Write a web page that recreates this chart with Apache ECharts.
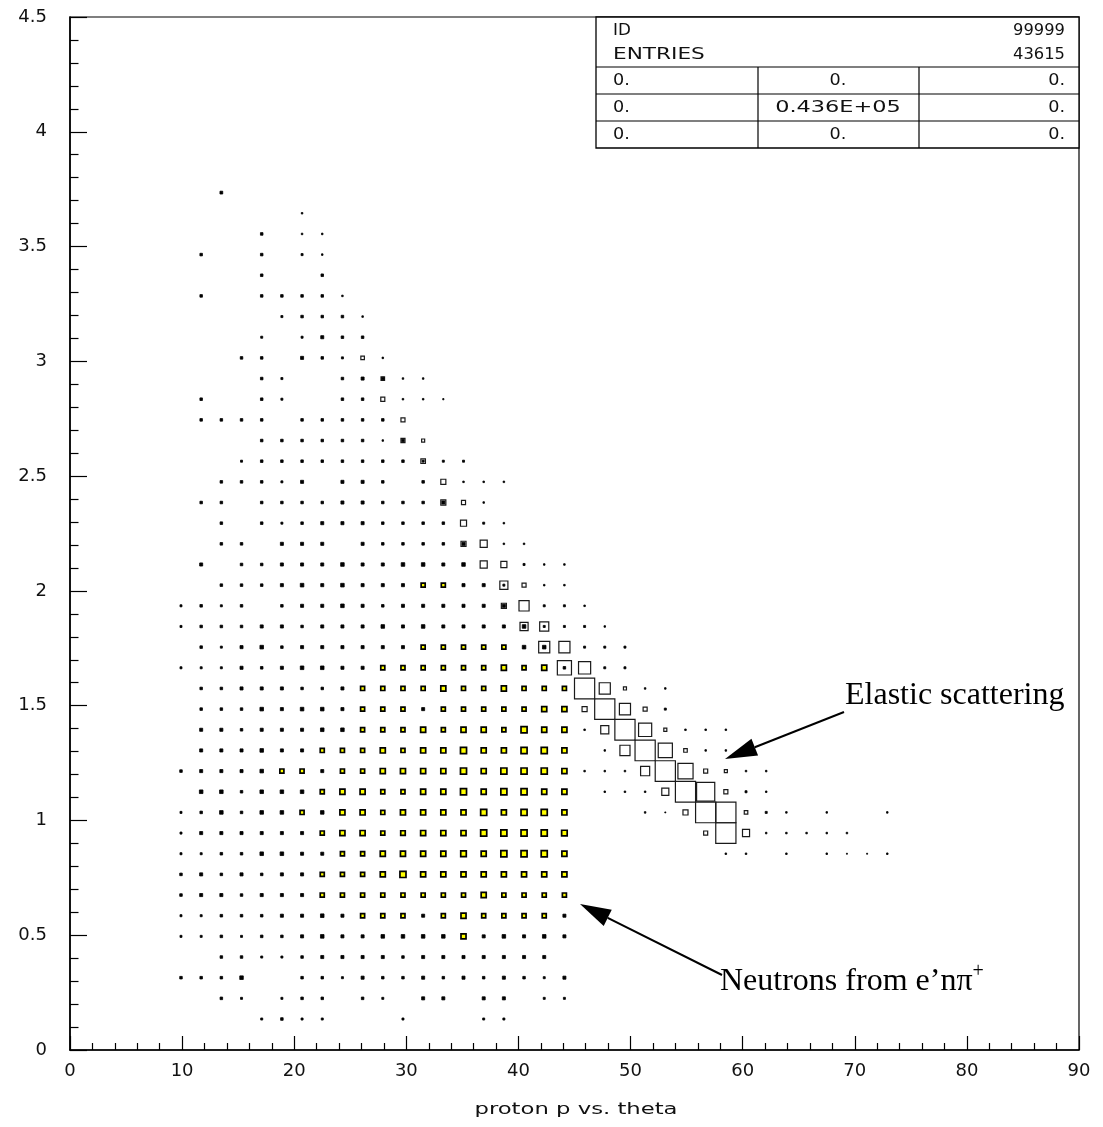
<!DOCTYPE html>
<html>
<head>
<meta charset="utf-8">
<script src="https://cdn.jsdelivr.net/npm/echarts@6/dist/echarts.min.js"></script>
<style>
html,body{margin:0;padding:0;background:#fff;}
#chart{width:1103px;height:1127px;}
</style>
</head>
<body>
<div id="chart"></div>
<script>
// ---------------- data ----------------
// histogram binning: 50 x 50 cells over theta 0..90 and p 0..4.5
const THETA_BIN = 1.8;
const P_BIN = 0.09;
const MAX_COUNT = 1600;          // content of the fullest cell

const xTicks = [0, 10, 20, 30, 40, 50, 60, 70, 80, 90];
const yTicks = [0, 0.5, 1, 1.5, 2, 2.5, 3, 3.5, 4, 4.5];

// Each row: [p bin centre, theta centre of first cell, counts of consecutive theta cells ... (0 = empty)]
const rowsHighP = [
  [3.735, 13.5, 30],
  [3.645, 20.7, 9],
  [3.555, 17.1, 25, 0, 9, 9],
  [3.465, 11.7, 25, 0, 0, 25, 0, 16, 9],
  [3.375, 17.1, 25, 0, 0, 25],
  [3.285, 11.7, 25, 0, 0, 25, 25, 25, 25, 9],
  [3.195, 18.9, 16, 25, 25, 25, 9],
  [3.105, 17.1, 16, 0, 16, 36, 25, 25],
  [3.015, 15.3, 25, 25, 0, 36, 25, 16, 0, 9],
  [2.925, 17.1, 25, 16, 0, 0, 25, 36, 25, 9, 9],
  [2.835, 11.7, 25, 0, 0, 25, 16, 0, 0, 25, 25, 0, 9, 9, 6],
  [2.745, 11.7, 25, 25, 25, 25, 0, 25, 25, 25, 25, 25]
];

const rowsUpperP = [
  [2.655, 17.1, 25, 25, 25, 25, 25, 25, 9, 25],
  [2.565, 15.3, 16, 25, 25, 25, 25, 25, 25, 25, 25, 16, 16, 16],
  [2.475, 13.5, 25, 25, 25, 16, 36, 0, 36, 36, 25, 0, 25, 0, 9, 9, 9],
  [2.385, 11.7, 25, 25, 0, 25, 25, 25, 25, 36, 36, 25, 25, 25, 36, 0, 9],
  [2.295, 13.5, 25, 0, 25, 16, 25, 36, 36, 36, 25, 25, 25, 25, 0, 16, 9],
  [2.205, 13.5, 25, 25, 0, 36, 36, 36, 0, 36, 25, 25, 25, 25, 36, 0, 9, 9],
  [2.115, 11.7, 36, 0, 25, 25, 36, 36, 36, 49, 36, 36, 49, 49, 36, 49, 0, 0, 16, 9, 9],
  [2.025, 13.5, 25, 25, 25, 36, 49, 36, 49, 36, 36, 36, 64, 64, 36, 36, 16, 0, 9, 9],
  [1.935, 9.9, 16, 25, 16, 25, 0, 25, 36, 36, 49, 36, 25, 36, 36, 36, 36, 36, 36, 0, 16, 16, 9],
  [1.845, 9.9, 16, 25, 25, 25, 36, 36, 25, 36, 36, 36, 49, 36, 49, 36, 36, 36, 36, 49, 16, 16, 16, 9],
  [1.755, 11.7, 25, 16, 36, 49, 25, 36, 36, 36, 36, 36, 36, 64, 64, 64, 64, 64, 49, 49, 0, 16, 16, 16]
];

const rowsMidP = [
  [1.665, 9.9, 16, 16, 16, 36, 25, 36, 49, 49, 36, 36, 64, 64, 64, 64, 64, 64, 100, 64, 100, 25, 0, 16, 16],
  [1.575, 11.7, 25, 25, 36, 36, 36, 25, 25, 36, 64, 64, 64, 64, 100, 64, 64, 100, 64, 64, 64, 0, 0, 0, 9, 9],
  [1.485, 11.7, 25, 25, 25, 49, 36, 49, 49, 36, 64, 64, 64, 36, 64, 64, 64, 64, 64, 100, 100, 0, 0, 0, 0, 16],
  [1.395, 11.7, 36, 36, 25, 36, 36, 36, 49, 49, 64, 64, 64, 100, 64, 100, 100, 64, 144, 100, 100, 9, 0, 0, 0, 0, 9, 9, 9],
  [1.305, 11.7, 36, 36, 36, 49, 36, 36, 64, 64, 64, 100, 64, 100, 100, 144, 100, 100, 144, 144, 100, 0, 9, 0, 0, 0, 0, 9, 9],
  [1.215, 9.9, 25, 36, 36, 36, 49, 64, 64, 36, 64, 64, 100, 100, 100, 100, 144, 100, 144, 144, 144, 100, 9, 9, 9, 0, 0, 0, 0, 0, 9, 9],
  [1.125, 11.7, 49, 49, 25, 49, 49, 49, 64, 100, 100, 64, 64, 100, 100, 144, 100, 144, 144, 100, 100, 0, 9, 9, 9, 0, 0, 0, 0, 16, 9],
  [1.035, 9.9, 16, 25, 49, 25, 49, 49, 64, 49, 100, 100, 64, 100, 100, 100, 100, 144, 100, 144, 144, 100, 0, 0, 0, 9, 4, 0, 0, 0, 0, 16, 9, 0, 9, 0, 0, 9],
  [0.945, 9.9, 16, 36, 36, 36, 36, 36, 36, 64, 100, 100, 64, 81, 100, 100, 100, 144, 144, 144, 144, 121, 0, 0, 0, 0, 0, 0, 0, 0, 0, 9, 9, 9, 9, 9]
];

const rowsLowP = [
  [0.855, 9.9, 16, 16, 25, 25, 49, 49, 36, 36, 64, 64, 100, 100, 100, 100, 121, 100, 144, 144, 144, 100, 0, 0, 0, 0, 0, 0, 0, 9, 9, 0, 9, 0, 9, 4, 4, 9],
  [0.765, 9.9, 25, 36, 25, 36, 25, 36, 36, 64, 64, 64, 100, 144, 100, 100, 100, 100, 100, 100, 100, 100],
  [0.675, 9.9, 25, 36, 36, 25, 36, 36, 36, 64, 64, 64, 64, 64, 64, 64, 64, 100, 64, 64, 64, 64],
  [0.585, 9.9, 16, 16, 25, 25, 25, 36, 36, 49, 36, 64, 64, 64, 36, 64, 100, 64, 64, 64, 64, 36],
  [0.495, 9.9, 16, 16, 25, 16, 25, 25, 36, 49, 36, 36, 49, 49, 49, 49, 100, 36, 49, 36, 49, 36],
  [0.405, 13.5, 25, 25, 16, 16, 25, 36, 36, 36, 36, 25, 36, 36, 36, 36, 36, 36, 36],
  [0.315, 9.9, 25, 25, 25, 49, 0, 0, 25, 25, 16, 36, 25, 25, 36, 25, 36, 25, 36, 25, 16, 36],
  [0.225, 13.5, 25, 16, 0, 16, 25, 25, 0, 25, 16, 0, 36, 36, 0, 36, 36, 0, 16, 16],
  [0.135, 17.1, 16, 25, 16, 16, 0, 0, 0, 16, 0, 0, 0, 16, 16]
];

// elastic ridge cells: [theta centre, p centre, count]
const elasticCells = [
  [26.1, 3.015, 49], [27.9, 2.925, 49], [27.9, 2.835, 64], [29.7, 2.745, 64],
  [29.7, 2.655, 64], [31.5, 2.655, 36], [31.5, 2.565, 81], [33.3, 2.475, 100],
  [33.3, 2.385, 100], [35.1, 2.385, 64], [35.1, 2.295, 144], [35.1, 2.205, 100],
  [36.9, 2.205, 196], [36.9, 2.115, 196], [38.7, 2.115, 144], [38.7, 2.025, 256],
  [40.5, 2.025, 64], [38.7, 1.935, 100], [40.5, 1.935, 400], [40.5, 1.845, 256],
  [42.3, 1.845, 324], [42.3, 1.755, 484], [44.1, 1.755, 484], [44.1, 1.665, 784],
  [45.9, 1.665, 576], [45.9, 1.575, 1600], [47.7, 1.575, 484], [49.5, 1.575, 36],
  [45.9, 1.485, 100], [47.7, 1.485, 1600], [49.5, 1.485, 484], [51.3, 1.485, 64],
  [47.7, 1.395, 256], [49.5, 1.395, 1600], [51.3, 1.395, 676], [53.1, 1.395, 36],
  [49.5, 1.305, 400], [51.3, 1.305, 1600], [53.1, 1.305, 784], [54.9, 1.305, 49],
  [51.3, 1.215, 324], [53.1, 1.215, 1600], [54.9, 1.215, 900], [56.7, 1.215, 64],
  [58.5, 1.215, 36], [53.1, 1.125, 196], [54.9, 1.125, 1600], [56.7, 1.125, 1296],
  [58.5, 1.125, 64], [54.9, 1.035, 100], [56.7, 1.035, 1600], [58.5, 1.035, 1600],
  [60.3, 1.035, 49], [56.7, 0.945, 64], [58.5, 0.945, 1600], [60.3, 0.945, 196]
];

const statsHeader = [['ID', '99999'], ['ENTRIES', '43615']];
const statsGrid = [['0.', '0.', '0.'], ['0.', '0.436E+05', '0.'], ['0.', '0.', '0.']];
const xTitle = 'proton p vs. theta';
const labelElastic = 'Elastic scattering';
const labelNeutron = 'Neutrons from e\u2019n\u03C0';

// ---------------- build ----------------
function expandRows(rows) {
  const out = [];
  rows.forEach(r => {
    const p = r[0], t0 = r[1];
    for (let k = 2; k < r.length; k++) {
      if (r[k] > 0) out.push([+(t0 + (k - 2) * THETA_BIN).toFixed(2), p, r[k]]);
    }
  });
  return out;
}
const inelasticCells = [].concat(expandRows(rowsHighP), expandRows(rowsUpperP),
                                 expandRows(rowsMidP), expandRows(rowsLowP));

function boxDims(api) {
  const c = api.coord([api.value(0), api.value(1)]);
  const cell = api.size([THETA_BIN, P_BIN]);
  const f = Math.sqrt(api.value(2) / MAX_COUNT);
  return { c, w: cell[0] * f, h: cell[1] * f };
}

function renderInelastic(params, api) {
  const { c, w, h } = boxDims(api);
  if (w >= 3.9) {
    return { type: 'rect',
      shape: { x: c[0] - w / 2, y: c[1] - h / 2, width: w, height: h },
      style: { fill: '#ffff00', stroke: '#000', lineWidth: 1.7 } };
  }
  return { type: 'rect', shape: { x: c[0] - w / 2, y: c[1] - h / 2, width: w, height: h },
    style: { fill: '#000', stroke: '#000', lineWidth: 0.8 } };
}

function renderElastic(params, api) {
  const { c, w, h } = boxDims(api);
  return { type: 'rect', shape: { x: c[0] - w / 2, y: c[1] - h / 2, width: w, height: h },
    style: { fill: 'none', stroke: '#1a1a1a', lineWidth: 1.2 } };
}

const AX_FONT = { fontFamily: 'DejaVu Sans', fontSize: 18, color: '#111' };
const TXT_FONT = '16px "DejaVu Sans"';

const chart = echarts.init(document.getElementById('chart'), null, { renderer: 'canvas' });

function arrow(x1, y1, x2, y2, len, half) {
  const dx = x2 - x1, dy = y2 - y1, L = Math.hypot(dx, dy);
  const ux = dx / L, uy = dy / L;
  const bx = x2 - ux * len, by = y2 - uy * len;
  return [
    { type: 'line', shape: { x1, y1, x2: bx, y2: by }, style: { stroke: '#000', lineWidth: 2 } },
    { type: 'polygon', shape: { points: [[x2, y2], [bx - uy * half, by + ux * half], [bx + uy * half, by - ux * half]] },
      style: { fill: '#000' } }
  ];
}

function txt(str, x, y, align, sx) {
  return { type: 'text', x, y, scaleX: sx || 1,
    style: { text: str, x: 0, y: 0, textAlign: align, textVerticalAlign: 'middle', font: TXT_FONT, fill: '#111' } };
}

// stats box
const SX0 = 596, SX1 = 1079, SY0 = 17, SY1 = 148, SROW = 27;
const statEls = [
  { type: 'rect', shape: { x: SX0, y: SY0, width: SX1 - SX0, height: SY1 - SY0 },
    style: { fill: '#fff', stroke: '#000', lineWidth: 1.3 } }
];
const lineY = [SY1 - 3 * SROW, SY1 - 2 * SROW, SY1 - SROW];
lineY.forEach(y => statEls.push({ type: 'line', shape: { x1: SX0, y1: y, x2: SX1, y2: y }, style: { stroke: '#000', lineWidth: 1.2 } }));
[758, 919].forEach(x => statEls.push({ type: 'line', shape: { x1: x, y1: lineY[0], x2: x, y2: SY1 }, style: { stroke: '#000', lineWidth: 1.2 } }));
statsHeader.forEach((r, k) => {
  const y = 31 + k * 24;
  statEls.push(txt(r[0], 613, y, 'left', k === 1 ? 1.35 : 1.05));
  statEls.push(txt(r[1], 1065, y, 'right', 1.02));
});
statsGrid.forEach((r, k) => {
  const y = lineY[0] + SROW / 2 + k * SROW;
  statEls.push(txt(r[0], 613, y, 'left', 1.1));
  statEls.push(txt(r[1], 838, y, 'center', r[1].length > 3 ? 1.4 : 1.1));
  statEls.push(txt(r[2], 1065, y, 'right', 1.1));
});

const annotEls = [].concat(
  arrow(844, 712, 725, 759, 32, 9),
  arrow(722, 975, 580, 904, 31, 9),
  [
    { type: 'text', style: { text: labelElastic, x: 845, y: 712, textAlign: 'left', textVerticalAlign: 'bottom',
      font: '32px "Liberation Serif"', fill: '#000' } },
    { type: 'text', style: { text: '{n|' + labelNeutron + '}{s|+}', x: 720, y: 998, textAlign: 'left', textVerticalAlign: 'bottom',
      rich: { n: { fontFamily: 'Liberation Serif', fontSize: 32, lineHeight: 36, verticalAlign: 'bottom', fill: '#000' },
              s: { fontFamily: 'Liberation Serif', fontSize: 20, lineHeight: 20, verticalAlign: 'top', fill: '#000' } } } },
    { type: 'text', x: 576, y: 1110, scaleX: 1.42,
      style: { text: xTitle, x: 0, y: 0, textAlign: 'center', textVerticalAlign: 'middle', font: '16px "DejaVu Sans"', fill: '#111' } }
  ]
);

const option = {
  animation: false,
  backgroundColor: '#fff',
  grid: { left: 70, right: 24, top: 17, bottom: 77, show: true, borderColor: '#000', borderWidth: 1.2, backgroundColor: 'transparent' },
  xAxis: {
    type: 'value', min: xTicks[0], max: xTicks[xTicks.length - 1], interval: xTicks[1] - xTicks[0],
    axisLine: { lineStyle: { color: '#000', width: 1.6 } },
    axisTick: { inside: true, length: 14, lineStyle: { color: '#000', width: 1.2 } },
    minorTick: { show: true, splitNumber: 5, length: 7, lineStyle: { color: '#000', width: 1.2 } },
    splitLine: { show: false },
    axisLabel: Object.assign({ margin: 12 }, AX_FONT)
  },
  yAxis: {
    type: 'value', min: yTicks[0], max: yTicks[yTicks.length - 1], interval: yTicks[1] - yTicks[0],
    axisLine: { lineStyle: { color: '#000', width: 1.6 } },
    axisTick: { inside: true, length: 17, lineStyle: { color: '#000', width: 1.2 } },
    minorTick: { show: true, splitNumber: 5, length: 8.5, lineStyle: { color: '#000', width: 1.2 } },
    splitLine: { show: false },
    axisLabel: Object.assign({ margin: 23 }, AX_FONT)
  },
  series: [
    { name: 'elastic', type: 'custom', renderItem: renderElastic, data: elasticCells, silent: true, z: 2 },
    { name: 'inelastic', type: 'custom', renderItem: renderInelastic, data: inelasticCells, silent: true, z: 3 }
  ],
  graphic: statEls.concat(annotEls)
};
chart.setOption(option);
</script>
</body>
</html>
